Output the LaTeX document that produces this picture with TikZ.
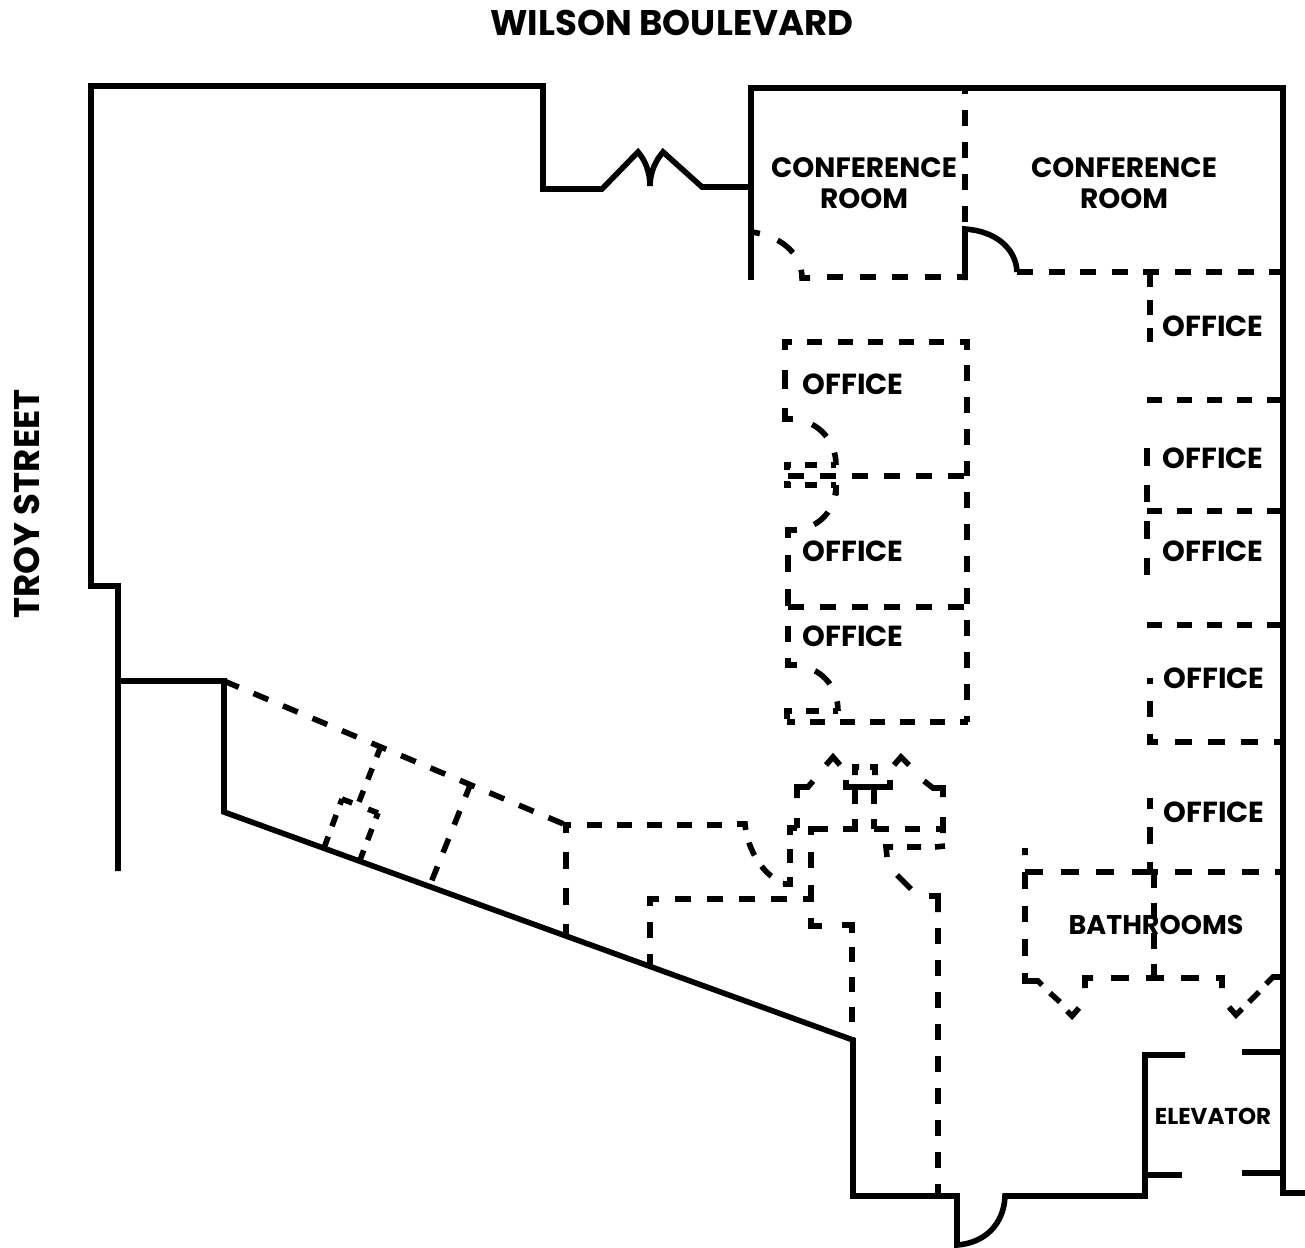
\documentclass[tikz,border=0pt]{standalone}
\usepackage{fontspec}
\setmainfont{Poppins}
\usepackage{tikz}

\tikzset{
  wall/.style={line width=5.6pt},
  partition/.style={line width=5.6pt,dash pattern=on 16pt off 16pt},
  dashes/.style 2 args={line width=5.6pt,dash pattern=on #1pt off #2pt},
  streetlabel/.style={font=\fontsize{35.6}{40}\selectfont\bfseries,inner sep=0pt},
  roomlabel/.style={font=\fontsize{28}{31}\selectfont\bfseries,align=center,inner sep=0pt},
  officelabel/.style={font=\fontsize{29}{31}\selectfont\bfseries,inner sep=0pt},
  bathlabel/.style={font=\fontsize{27}{31}\selectfont\bfseries,inner sep=0pt},
  elevatorlabel/.style={font=\fontsize{23}{26}\selectfont\bfseries,inner sep=0pt}
}

\begin{document}
\begin{tikzpicture}[x=1pt,y=-1pt]
  \useasboundingbox (0,0) rectangle (1305,1247);
  \node[streetlabel] (wilson) at (672,23) {WILSON BOULEVARD};
  \node[streetlabel,rotate=90] (troy) at (27,504) {TROY STREET};
  \draw[wall] (118,871) -- (118,586) -- (91,586) -- (91,86) -- (543,86) -- (543,189) -- (602,189)
    -- (638,152) .. controls (645,160) and (650,172) .. (650,186)
    .. controls (650,172) and (656,160) .. (663,152) -- (702,187) -- (751,187);
  \draw[wall] (118,681) -- (224,681) -- (224,812) -- (853,1040) -- (853,1196) -- (957,1196)
    -- (957,1245) .. controls (985,1243) and (1004,1224) .. (1005,1196) -- (1145,1196) -- (1145,1055) -- (1185,1055);
  \draw[wall] (751,280) -- (751,88) -- (1283,88) -- (1283,1193) -- (1305,1193);
  \draw[wall] (1145,1175) -- (1182,1175) (1242,1052) -- (1283,1052) (1242,1173) -- (1283,1173);
  \draw[wall] (965,280) -- (965,229) .. controls (995,231) and (1016,248) .. (1017,272);
  \draw[partition] (965,222) -- (965,88);
  \draw[dashes={20}{19},dash phase=11] (751,232) .. controls (778,235) and (802,252) .. (802,278) -- (810,278);
  \draw[dashes={16}{16.5}] (827,277) -- (965,277);
  \draw[dashes={16}{15.5}] (1017,272) -- (1283,272);
  \draw[dashes={14.5}{13.5}] (1150,272) -- (1150,342);
  \draw[dashes={15}{15}] (1147,400) -- (1283,400) (1147,511) -- (1283,511) (1147,625) -- (1283,625);
  \draw[dashes={17.5}{19}] (1147,448) -- (1147,575);
  \draw[dashes={16.5}{16.5}] (1158,742) -- (1150,742) -- (1150,678) (1175,742) -- (1283,742);
  \draw[dashes={17}{18},dash phase=7] (1150,872) -- (1150,798);
  \draw[dashes={15}{15.5}] (807,342) -- (967,342) -- (967,350);
  \draw[wall] (792,342) -- (785,342) -- (785,350);
  \draw[dashes={19}{19}] (785,370) -- (785,419) -- (795,419);
  \draw[partition] (967,365) -- (967,476) (788,476) -- (967,476) (788,607) -- (967,607) (967,492) -- (967,722);
  \draw[dashes={19}{18},dash phase=19] (795,419) .. controls (818,422) and (836,440) .. (836,465);
  \draw[dashes={19}{18},dash phase=19] (797,530) .. controls (820,527) and (836,510) .. (836,485);
  \draw[dashes={20}{19},dash phase=20] (797,665) .. controls (820,668) and (838,685) .. (838,711);
  \draw[dashes={12.5}{13.5},dash phase=7] (836,465) -- (787,465) -- (787,470) (836,485) -- (787,485) -- (787,481);
  \draw[wall] (836,495) -- (836,485);
  \draw[dashes={13}{14},dash phase=8] (838,711) -- (787,711) -- (787,722);
  \draw[dashes={15}{15},dash phase=7] (968,722) -- (787,722);
  \draw[dashes={17}{17}] (797,530) -- (788,530) -- (788,607);
  \draw[partition] (797,665) -- (788,665) -- (788,610);
  \draw[dashes={18}{17.5}] (1025,872) -- (1150,872);
  \draw[dashes={17}{16.5}] (1141,872) -- (1283,872);
  \draw[dashes={16.5}{17}] (1025,872) -- (1025,981);
  \draw[dashes={17.5}{17.5}] (1111,978) -- (1217,978);
  \draw[dashes={16}{14.5}] (1154,872) -- (1154,978);
  \draw[wall] (1025,848) -- (1025,855)
    (1025,975) -- (1025,981) -- (1038,981) -- (1042,985) (1050,993) -- (1060,1002)
    (1067,1011) -- (1072,1016) -- (1079,1008) (1085,988) -- (1085,978) -- (1093,978)
    (1216,978) -- (1222,978) -- (1222,988) (1229,1007) -- (1236,1015) -- (1242,1009)
    (1249,1002) -- (1259,992) (1266,984) -- (1273,977) -- (1283,977);
  \draw[partition] (224,681) -- (566,825);
  \draw[dashes={15}{15}] (587,825) -- (737,825);
  \draw[wall] (563,825) -- (571,825);
  \draw[dashes={17.5}{18.5},dash phase=9.5] (566,825) -- (566,935);
  \draw[dashes={14}{13}] (737,824) -- (745,824) .. controls (747,850) and (765,878) .. (783,882);
  \draw[dashes={14}{14}] (797,828) -- (790,828) -- (790,884) -- (783,884);
  \draw[dashes={30}{20}] (813,781) -- (808,787) -- (797,787) -- (797,828);
  \draw[partition] (787,899) -- (650,899) -- (650,965);
  \draw[wall] (826,765) -- (833,757) -- (840,765) (894,765) -- (901,757) -- (909,765)
    (924,781) -- (933,788) -- (943,788) -- (943,797) (943,817) -- (943,833)
    (859,767) -- (855,767) -- (855,775) (870,767) -- (875,767) -- (875,775)
    (846,780) -- (846,787) -- (890,787) -- (890,780);
  \draw[dashes={14}{15}] (855,790) -- (855,829) (874,790) -- (874,829);
  \draw[dashes={15}{16}] (843,829) -- (943,829);
  \draw[wall] (828,829) -- (811,829) -- (811,835);
  \draw[dashes={16}{17}] (811,852) -- (811,885);
  \draw[wall] (811,885) -- (811,899) -- (803,899) (811,918) -- (811,926) -- (822,926)
    (842,925) -- (852,925) -- (852,933);
  \draw[dashes={15}{15}] (852,947) -- (852,1040);
  \draw[wall] (893,847) -- (886,847) -- (887,857) (907,847) -- (921,847) (935,847) -- (945,846)
    (897,875) -- (911,889) (929,896) -- (938,896) -- (938,912);
  \draw[partition] (938,928) -- (938,1196);
  \draw[dashes={12}{12}] (381,746) -- (357,807);
  \draw[dashes={15}{15}] (471,783) -- (430,885);
  \draw[dashes={12}{11},dash phase=6] (342,799) -- (324,848) (378,813) -- (360,860);
  \draw[dashes={11}{17}] (342,799) -- (378,813);
  \node[roomlabel] (confa) at (864,183) {CONFERENCE\\ROOM};
  \node[roomlabel] (confb) at (1124,183) {CONFERENCE\\ROOM};
  \foreach \name/\pos in {officea/{(853,384)},officeb/{(853,551)},officec/{(853,636)},officed/{(1213,326)},
      officee/{(1213,458)},officef/{(1213,551)},officeg/{(1214,678)},officeh/{(1214,812)}}
    \node[officelabel] (\name) at \pos {OFFICE};
  \node[bathlabel] (bath) at (1156,925) {BATHROOMS};
  \node[elevatorlabel] (elevator) at (1213,1116) {ELEVATOR};
\end{tikzpicture}
\end{document}
